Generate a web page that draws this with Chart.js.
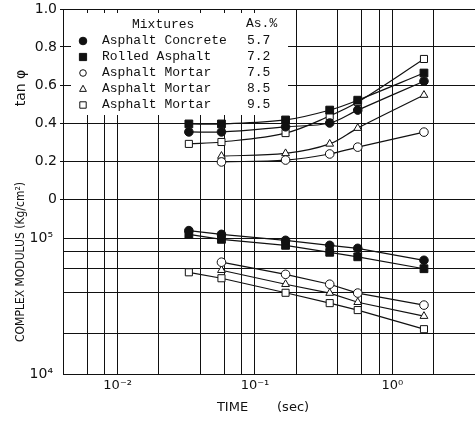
<!DOCTYPE html>
<html><head><meta charset="utf-8">
<script src="https://cdn.jsdelivr.net/npm/chart.js@4/dist/chart.umd.min.js"></script>
<style>html,body{margin:0;padding:0;background:#fff;}#wrap{width:475px;height:422px;}</style>
</head><body><div id="wrap"><canvas id="c" width="475" height="422"></canvas></div>
<script>
// ---- data ----
const times = [0.033, 0.057, 0.167, 0.35, 0.56, 1.7];   // sec
const mixtures = ['Asphalt Concrete', 'Rolled Asphalt', 'Asphalt Mortar', 'Asphalt Mortar', 'Asphalt Mortar'];
const asPercent = ['5.7', '7.2', '7.5', '8.5', '9.5'];

const tanConcrete = [0.353, 0.353, 0.38, 0.40, 0.468, 0.62];
const tanRolled   = [0.395, 0.395, 0.416, 0.468, 0.52, 0.663];
const tanMortar75 = [null, 0.195, 0.205, 0.237, 0.273, 0.352];
const tanMortar85 = [null, 0.226, 0.24, 0.29, 0.373, 0.547];
const tanMortar95 = [0.29, 0.30, 0.347, 0.437, 0.51, 0.737];

const modConcrete = [114000, 107000, 96700, 88800, 84400, 68900];
const modRolled   = [107000, 98300, 88800, 78900, 73100, 59700];
const modMortar75 = [null, 66700, 54300, 45900, 39500, 32200];
const modMortar85 = [null, 58200, 45900, 39500, 33800, 26700];
const modMortar95 = [56200, 50800, 39700, 33300, 29600, 21400];

const xTickValues = [0.006, 0.008, 0.01, 0.02, 0.04, 0.06, 0.08, 0.1, 0.2, 0.4, 0.6, 0.8, 1, 2];
const xTickLabels = ['', '', '10\u207B\u00B2', '', '', '', '', '10\u207B\u00B9', '', '', '', '', '10\u2070', ''];
const tanTickValues = [0, 0.2, 0.4, 0.6, 0.8, 1.0];
const tanTickLabels = ['0', '0.2', '0.4', '0.6', '0.8', '1.0'];
const modTickValues = [10000, 20000, 40000, 60000, 80000, 100000];
const modTickLabels = ['10\u2074', '', '', '', '', '10\u2075'];

// ---- styling ----
const INK = '#111';
const styles = [
  {pointStyle: 'circle',   filled: true,  r: 4.3},
  {pointStyle: 'rect',     filled: true,  r: 5.5},
  {pointStyle: 'circle',   filled: false, r: 4.3},
  {pointStyle: 'triangle', filled: false, r: 4.5},
  {pointStyle: 'rect',     filled: false, r: 5}
];
const tanSeries = [tanConcrete, tanRolled, tanMortar75, tanMortar85, tanMortar95];
const modSeries = [modConcrete, modRolled, modMortar75, modMortar85, modMortar95];

function pts(vals) {
  const out = [];
  vals.forEach((v, i) => { if (v !== null) out.push({x: times[i], y: v}); });
  return out;
}

const datasets = [];
tanSeries.forEach((s, i) => {
  const st = styles[i];
  datasets.push({
    label: mixtures[i] + ' ' + asPercent[i] + ' (tan)', data: pts(s), yAxisID: 'yTan',
    borderColor: INK, borderWidth: 1.2, tension: 0.35,
    pointStyle: st.pointStyle, pointRadius: st.r, pointHoverRadius: st.r,
    pointBackgroundColor: st.filled ? INK : '#fff', pointBorderColor: INK, pointBorderWidth: 1
  });
});
modSeries.forEach((s, i) => {
  const st = styles[i];
  datasets.push({
    label: mixtures[i] + ' ' + asPercent[i] + ' (E*)', data: pts(s), yAxisID: 'yMod',
    borderColor: INK, borderWidth: 1.2, tension: 0,
    pointStyle: st.pointStyle, pointRadius: st.r, pointHoverRadius: st.r,
    pointBackgroundColor: st.filled ? INK : '#fff', pointBorderColor: INK, pointBorderWidth: 1
  });
});

function marker(ctx, style, filled, r, x, y) {
  ctx.beginPath();
  if (style === 'circle') {
    ctx.arc(x, y, r, 0, Math.PI * 2);
  } else if (style === 'rect') {
    ctx.rect(x - r, y - r, 2 * r, 2 * r);
  } else {
    ctx.moveTo(x, y - r * 1.1);
    ctx.lineTo(x + r, y + r * 0.7);
    ctx.lineTo(x - r, y + r * 0.7);
    ctx.closePath();
  }
  ctx.fillStyle = filled ? INK : '#fff';
  ctx.fill();
  ctx.lineWidth = 1;
  ctx.strokeStyle = INK;
  ctx.stroke();
}

const legendMarks = [
  {s: 'circle', f: true, r: 3.8},
  {s: 'rect', f: true, r: 3.6},
  {s: 'circle', f: false, r: 3.3},
  {s: 'triangle', f: false, r: 3.4},
  {s: 'rect', f: false, r: 3.2}
];

const annot = {
  id: 'annot',
  beforeDatasetsDraw(chart) {
    const ctx = chart.ctx;
    const a = chart.chartArea;
    ctx.save();
    ctx.fillStyle = '#fff';
    ctx.fillRect(a.left + 8, a.top + 4, 217, 102);
    ctx.fillStyle = INK;
    ctx.font = '13px "Liberation Mono", "DejaVu Sans Mono", monospace';
    ctx.textBaseline = 'middle';
    ctx.textAlign = 'left';
    ctx.fillText('Mixtures', 132, 25);
    ctx.fillText('As.%', 246, 24);
    const rowY = [41, 57, 73, 89, 105];
    mixtures.forEach((m, i) => {
      const lm = legendMarks[i];
      marker(ctx, lm.s, lm.f, lm.r, 83, rowY[i]);
      ctx.fillStyle = INK;
      ctx.fillText(m, 102, rowY[i]);
      ctx.fillText(asPercent[i], 247, rowY[i]);
    });
    ctx.restore();
  },
  afterDraw(chart) {
    const ctx = chart.ctx;
    ctx.save();
    ctx.fillStyle = INK;
    ctx.textAlign = 'center';
    ctx.textBaseline = 'middle';
    ctx.font = '14px "DejaVu Sans", sans-serif';
    ctx.translate(21, 88);
    ctx.rotate(-Math.PI / 2);
    ctx.fillText('tan \u03C6', 0, 0);
    ctx.restore();
    ctx.save();
    ctx.fillStyle = INK;
    ctx.textAlign = 'center';
    ctx.textBaseline = 'middle';
    ctx.font = '12px "Liberation Sans Narrow", "DejaVu Sans Condensed", "DejaVu Sans", sans-serif';
    ctx.translate(21, 262);
    ctx.rotate(-Math.PI / 2);
    ctx.fillText('COMPLEX MODULUS (Kg/cm\u00B2)', 0, 0);
    ctx.restore();
    ctx.save();
    ctx.fillStyle = INK;
    ctx.textAlign = 'center';
    ctx.textBaseline = 'middle';
    ctx.font = '13px "DejaVu Sans", sans-serif';
    ctx.fillText('TIME       (sec)', 263, 408);
    ctx.restore();
  }
};

new Chart(document.getElementById('c'), {
  type: 'line',
  data: {datasets},
  plugins: [annot],
  options: {
    responsive: false,
    devicePixelRatio: 1,
    animation: false,
    events: [],
    layout: {autoPadding: false, padding: {top: 9, left: 0, right: 0, bottom: 0}},
    plugins: {legend: {display: false}, tooltip: {enabled: false}, title: {display: false}},
    scales: {
      x: {
        type: 'logarithmic', min: 0.004, max: 4, position: 'bottom',
        afterBuildTicks: s => { s.ticks = xTickValues.map(v => ({value: v})); },
        afterFit: s => { s.height = 48; s.paddingLeft = 0; s.paddingRight = 0; },
        grid: {color: INK, lineWidth: 1, drawTicks: false},
        border: {color: INK, width: 1},
        ticks: {autoSkip: false, maxRotation: 0, minRotation: 0, padding: 4, color: INK,
                font: {family: 'DejaVu Sans', size: 13},
                callback: (v, i) => xTickLabels[i]}
      },
      yMod: {
        type: 'logarithmic', min: 10000, max: 195000, position: 'left', stack: 'left', stackWeight: 175,
        afterBuildTicks: s => { s.ticks = modTickValues.map(v => ({value: v})); },
        afterFit: s => { s.width = 63; s.paddingTop = 0; s.paddingBottom = 0; },
        grid: {color: INK, lineWidth: 1, drawTicks: false},
        border: {color: INK, width: 1},
        ticks: {autoSkip: false, padding: 10, color: INK, font: {family: 'DejaVu Sans', size: 14},
                callback: (v, i) => modTickLabels[i]}
      },
      yTan: {
        type: 'linear', min: 0, max: 1, position: 'left', stack: 'left', stackWeight: 190,
        afterBuildTicks: s => { s.ticks = tanTickValues.map(v => ({value: v})); },
        afterFit: s => { s.width = 63; s.paddingTop = 0; s.paddingBottom = 0; },
        grid: {color: INK, lineWidth: 1, drawTicks: true, tickLength: 3},
        border: {color: INK, width: 1},
        ticks: {autoSkip: false, padding: 3, color: INK, font: {family: 'DejaVu Sans', size: 14},
                callback: (v, i) => tanTickLabels[i]}
      }
    }
  }
});
</script></body></html>
